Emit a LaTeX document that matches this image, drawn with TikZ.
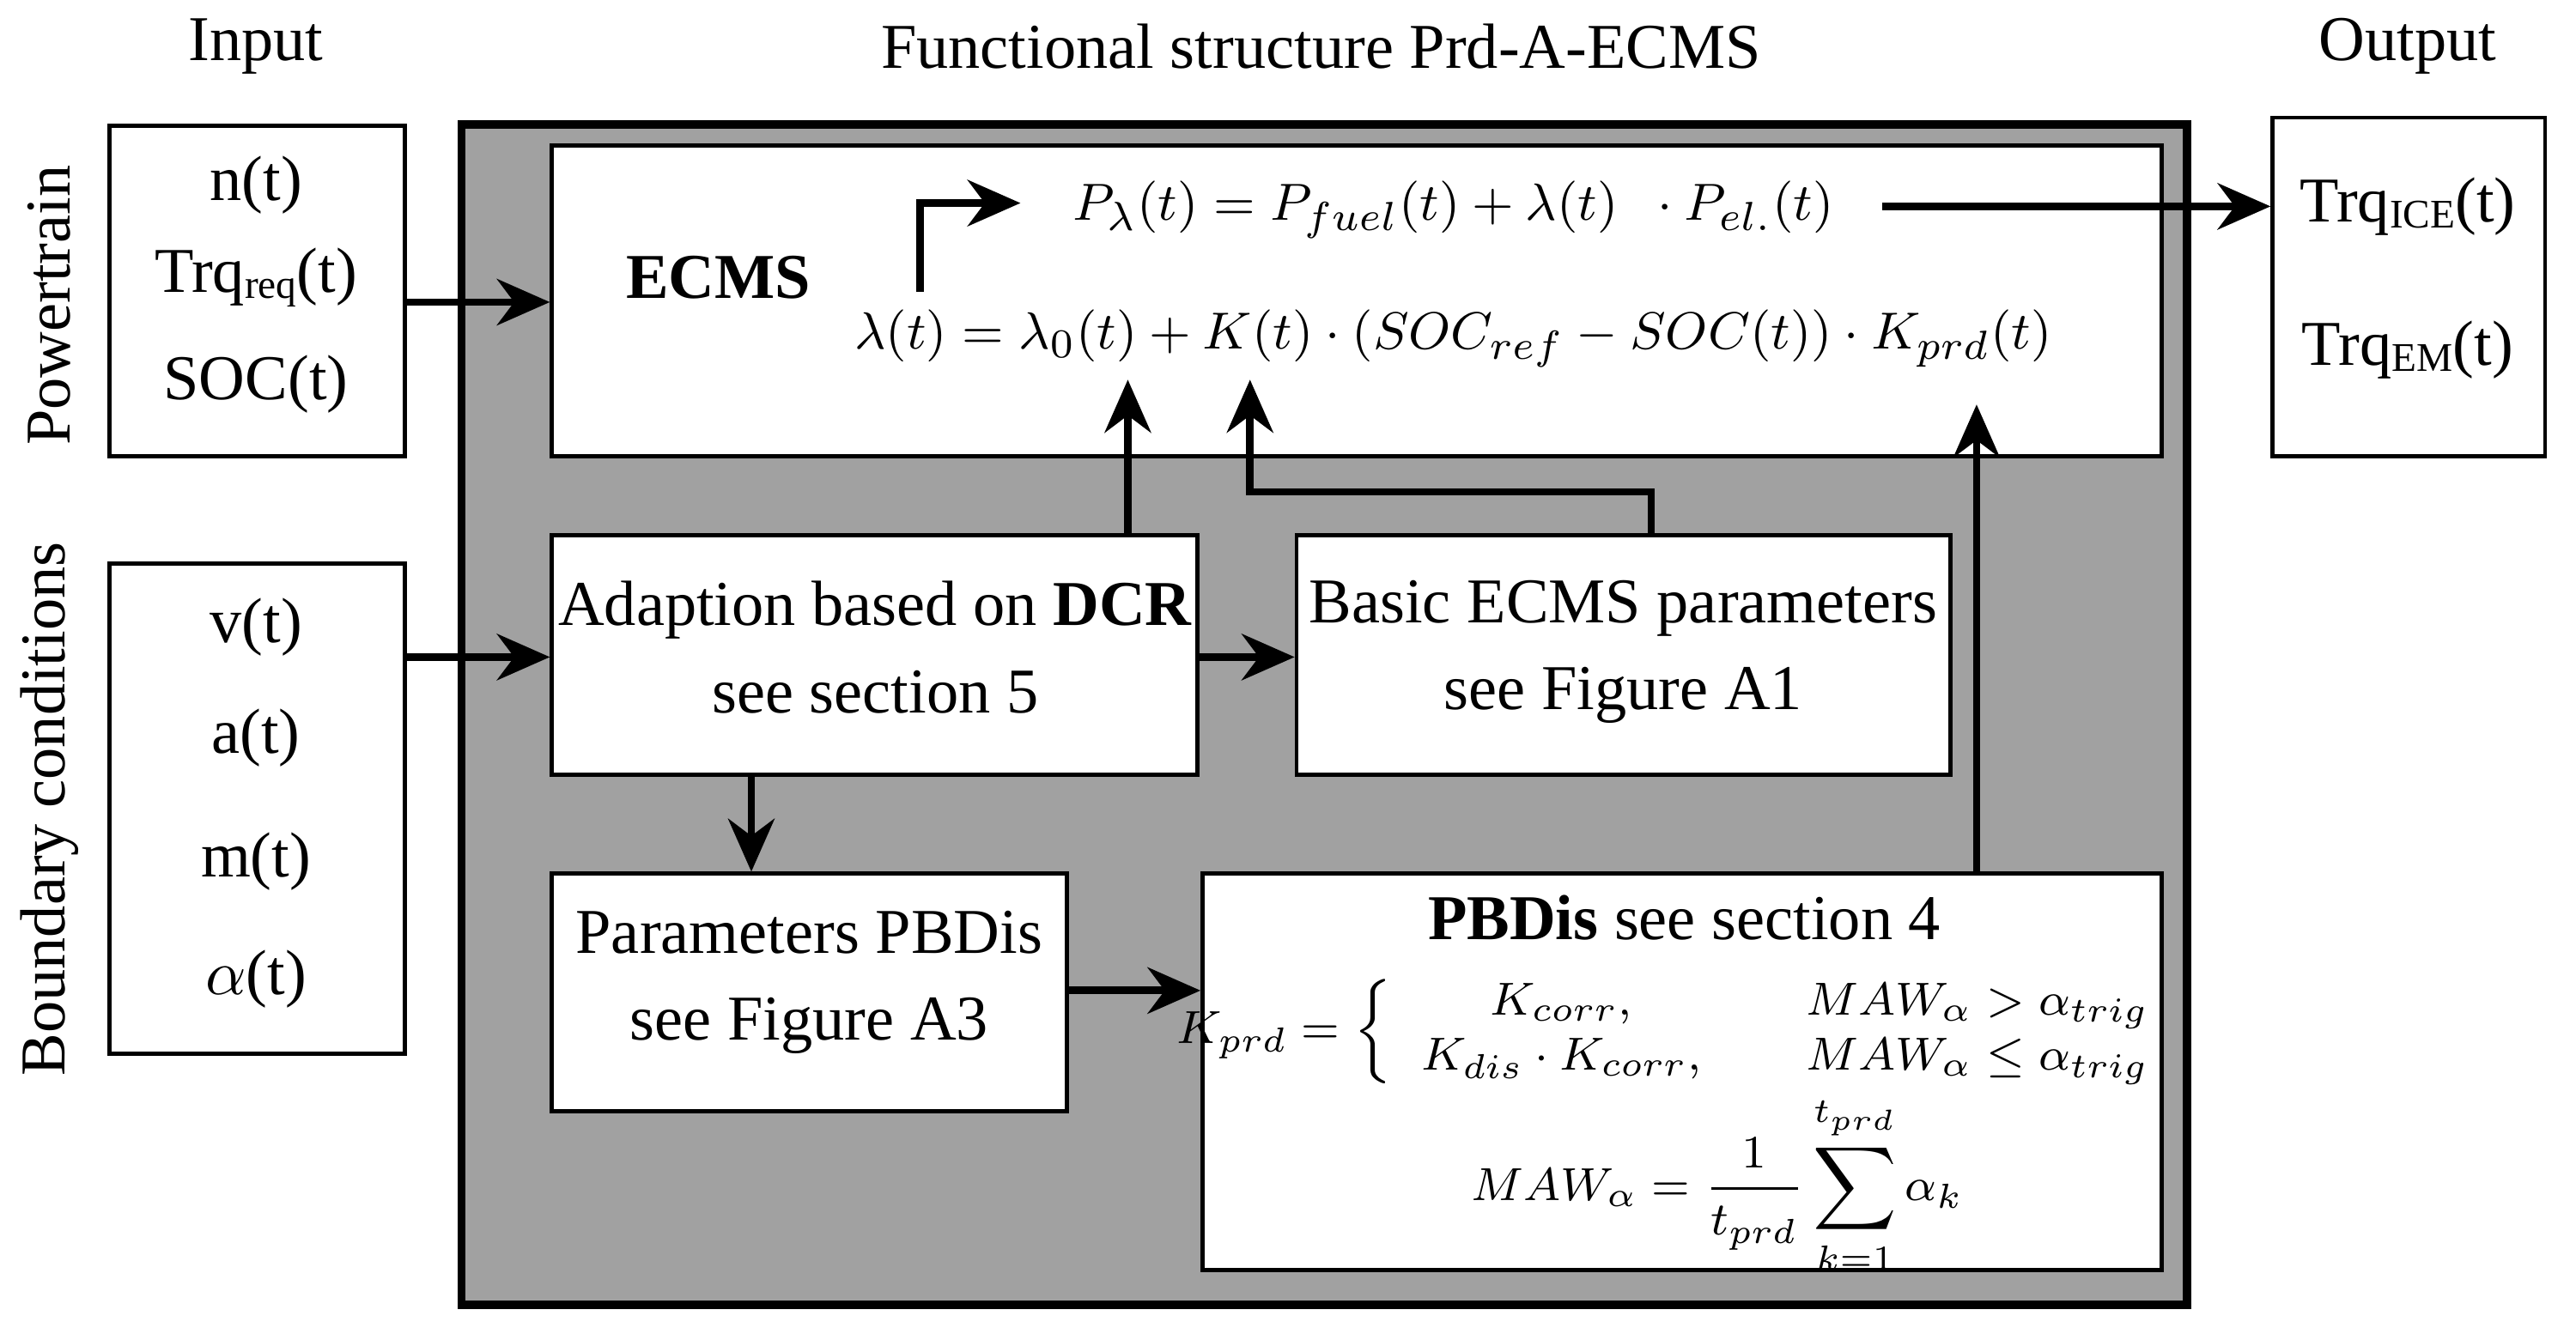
\documentclass[tikz,border=0pt]{standalone}
\usepackage{fontspec}
\setmainfont{Liberation Serif}
\usetikzlibrary{arrows.meta}

\begin{document}
\begin{tikzpicture}[x=0.01cm,y=-0.01cm,font=\fontsize{11}{13}\selectfont]
    \useasboundingbox (0,0) rectangle (1560,808);
    \tikzset{box/.style={draw,line width=0.7pt,fill=white,anchor=north west,inner sep=0pt},
             flow/.style={line width=1.3pt,-{Stealth[length=3.2mm,width=2.8mm]}}}

    % headings
    \node (hin)  at (155,28)  {Input};
    \node (hfun) at (800,28)  {Functional structure Prd-A-ECMS};
    \node (hout) at (1458,28) {Output};
    \node[rotate=90] (lpt) at (30,185) {Powertrain};
    \node[rotate=90] (lbc) at (30,490) {Boundary conditions};

    % outer frame
    \node[box,fill=black!37,line width=1.4pt,minimum width=1045*0.01cm,minimum height=715*0.01cm] (frame) at (277,73) {};

    \begin{scope}[every node/.style={box}]
        \node[minimum width=179*0.01cm,minimum height=200*0.01cm] (pt)   at (65,75)   {};
        \node[minimum width=179*0.01cm,minimum height=297*0.01cm] (bc)   at (65,340)  {};
        \node[minimum width=975*0.01cm,minimum height=188*0.01cm] (ecms) at (333,87)  {};
        \node[minimum width=165*0.01cm,minimum height=205*0.01cm] (out)  at (1375,70) {};
        \node[minimum width=391*0.01cm,minimum height=145*0.01cm] (dcr)  at (333,323) {};
        \node[minimum width=396*0.01cm,minimum height=145*0.01cm] (bas)  at (784,323) {};
        \node[minimum width=312*0.01cm,minimum height=144*0.01cm] (par)  at (333,528) {};
        \node[minimum width=581*0.01cm,minimum height=240*0.01cm] (pbd)  at (727,528) {};
    \end{scope}

    % texts
    \node (tn)   at (155,112) {n(t)};
    \node (ttr)  at (155,168) {Trq\raisebox{-0.2ex}{\scriptsize req}(t)};
    \node (tsoc) at (155,233) {SOC(t)};
    \node (tv)   at (155,380) {v(t)};
    \node (ta)   at (155,447) {a(t)};
    \node (tm)   at (155,522) {m(t)};
    \node (tal)  at (155,593) {$\alpha$(t)};
    \node (tice) at (1458,125) {Trq\raisebox{-0.2ex}{\scriptsize ICE}(t)};
    \node (tem)  at (1458,212) {Trq\raisebox{-0.2ex}{\scriptsize EM}(t)};
    \node[font=\fontsize{11}{13}\selectfont\bfseries] (tecms) at (435,168) {ECMS};
    \node[font=\fontsize{9.5}{11}\selectfont] (eqp) at (880,127) {$P_{\lambda}(t) = P_{fuel}(t) + \lambda(t)\ \ \cdot P_{el.}(t)$};
    \node[font=\fontsize{9.5}{11}\selectfont] (eql) at (880,205) {$\lambda(t) = \lambda_0(t) + K(t)\cdot(SOC_{ref} - SOC(t))\cdot K_{prd}(t)$};
    \node[align=center] (tdcr) at (530,392) {Adaption based on \textbf{DCR}\\[2pt]see section 5};
    \node[align=center] (tbas) at (983,395) {Basic ECMS parameters\\[2pt]see Figure A1};
    \node[align=center] (tpar) at (490,595) {Parameters PBDis\\[2pt]see Figure A3};
    \node (tpbd) at (1020,556) {\textbf{PBDis} see section 4};
    \node[font=\footnotesize] (tcase) at (1018,625) {$K_{prd}=\left\{\begin{array}{cl} K_{corr}, & \quad MAW_{\alpha}>\alpha_{trig}\\ K_{dis}\cdot K_{corr}, & \quad MAW_{\alpha}\le\alpha_{trig}\end{array}\right.$};
    \node[font=\footnotesize] (tmaw) at (1040,718) {$\displaystyle MAW_{\alpha}=\frac{1}{t_{prd}}\sum_{k=1}^{t_{prd}}\alpha_k$};

    % helper points
    \coordinate (c1) at (557,177);
    \coordinate (c2) at (618,123);
    \coordinate (c3) at (1140,125);
    \coordinate (c4) at (683,230);
    \coordinate (c5) at (757,230);
    \coordinate (c6) at (1197,245);

    % connectors
    \draw[flow] (244,183) -- (ecms.west |- 0,183);
    \draw[flow] (244,398) -- (dcr.west |- 0,398);
    \draw[flow] (dcr.east |- 0,398) -- (bas.west |- 0,398);
    \draw[flow] (c1) |- (c2);
    \draw[flow] (c3) -- (out.west |- c3);
    \draw[flow] (dcr.north -| c4) -- (c4);
    \draw[flow] (bas.north -| 1000,0) |- (757,298) -- (c5);
    \draw[flow] (dcr.south -| 455,0) -- (par.north -| 455,0);
    \draw[flow] (par.east |- 0,600) -- (pbd.west |- 0,600);
    \draw[flow] (pbd.north -| c6) -- (c6);
\end{tikzpicture}
\end{document}
